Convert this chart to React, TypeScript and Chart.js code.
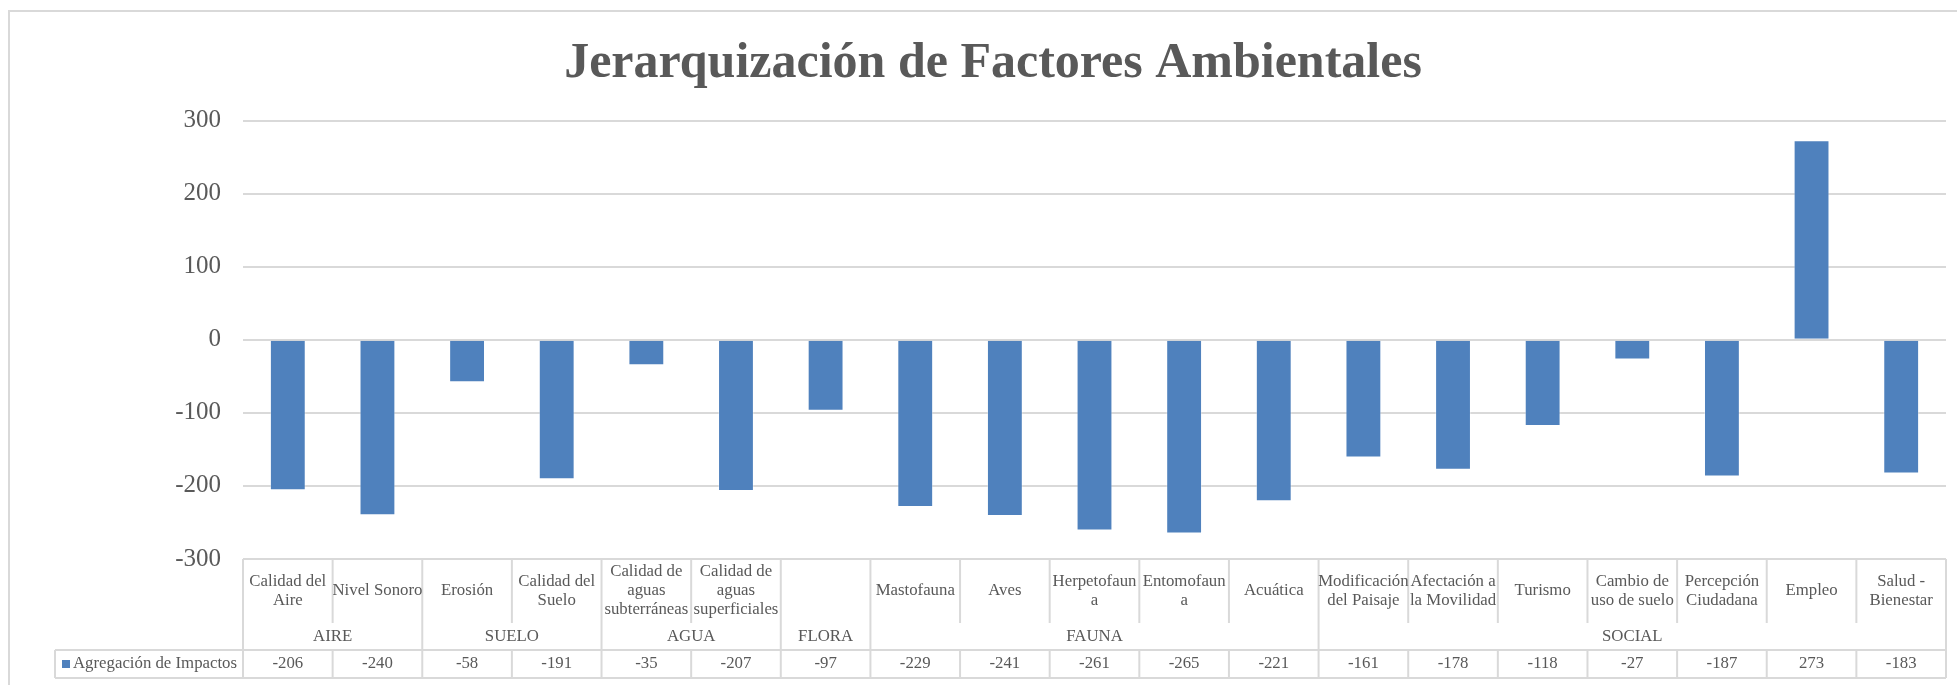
import React, { useEffect, useRef } from 'react';
import { Chart, registerables } from 'chart.js';

Chart.register(...registerables);

// ---- Data ----
const chartTitle = 'Jerarquización de Factores Ambientales';
const seriesName = 'Agregación de Impactos';
const categoryLines: string[][] = [
  ['Calidad del', 'Aire'],
  ['Nivel Sonoro'],
  ['Erosión'],
  ['Calidad del', 'Suelo'],
  ['Calidad de', 'aguas', 'subterráneas'],
  ['Calidad de', 'aguas', 'superficiales'],
  [''],
  ['Mastofauna'],
  ['Aves'],
  ['Herpetofaun', 'a'],
  ['Entomofaun', 'a'],
  ['Acuática'],
  ['Modificación', 'del Paisaje'],
  ['Afectación a', 'la Movilidad'],
  ['Turismo'],
  ['Cambio de', 'uso de suelo'],
  ['Percepción', 'Ciudadana'],
  ['Empleo'],
  ['Salud -', 'Bienestar'],
];
const groupNames = ['AIRE', 'SUELO', 'AGUA', 'FLORA', 'FAUNA', 'SOCIAL'];
const groupSizes = [2, 2, 2, 1, 5, 7];
const impactValues = [-206, -240, -58, -191, -35, -207, -97, -229, -241, -261, -265, -221, -161, -178, -118, -27, -187, 273, -183];
const yMin = -300;
const yMax = 300;
const yStep = 100;

// ---- Styles ----
const W = 1957;
const H = 685;
const FONT = '"Liberation Serif", "Times New Roman", serif';
const TEXT = '#595959';
const LINE = '#d9d9d9';
const BAR = '#4F81BD';

const tablePlugin = {
  id: 'dataTable',
  beforeDraw(chart: any) {
    const ctx = chart.ctx;
    ctx.save();
    ctx.fillStyle = '#ffffff';
    ctx.fillRect(0, 0, chart.width, chart.height);
    ctx.strokeStyle = LINE;
    ctx.lineWidth = 2;
    ctx.strokeRect(9, 11, chart.width + 60, chart.height + 60);
    ctx.restore();
  },
  afterDraw(chart: any) {
    const ctx = chart.ctx;
    const xs = chart.scales.x;
    const ys = chart.scales.y;
    const n = categoryLines.length;
    const left = chart.chartArea.left;
    const right = chart.chartArea.right;
    const cw = (right - left) / n;
    const edge = (i: number) => (i >= n ? right : xs.getPixelForValue(i) - cw / 2);
    const top = ys.getPixelForValue(yMin);
    const rowCat = top + 64;
    const rowGrp = top + 91;
    const rowBot = top + 119;
    const legendLeft = 55;

    const line = (x1: number, y1: number, x2: number, y2: number) => {
      ctx.beginPath();
      ctx.moveTo(x1, y1);
      ctx.lineTo(x2, y2);
      ctx.stroke();
    };

    ctx.save();
    ctx.strokeStyle = LINE;
    ctx.lineWidth = 2;
    line(left, top, right, top);
    line(legendLeft, rowGrp, right, rowGrp);
    line(legendLeft, rowBot, right, rowBot);
    line(legendLeft, rowGrp, legendLeft, rowBot);

    const groupEdges = new Set<number>();
    let acc = 0;
    groupEdges.add(0);
    groupSizes.forEach((s) => {
      acc += s;
      groupEdges.add(acc);
    });
    for (let i = 0; i <= n; i++) {
      const x = edge(i);
      if (groupEdges.has(i)) {
        line(x, top, x, rowBot);
      } else {
        line(x, top, x, rowCat);
        line(x, rowGrp, x, rowBot);
      }
    }

    ctx.fillStyle = TEXT;
    ctx.font = `16.8px ${FONT}`;
    ctx.textAlign = 'center';
    ctx.textBaseline = 'middle';
    const lineH = 19;
    const catMid = (top + rowCat) / 2;
    categoryLines.forEach((lines, i) => {
      const cx = xs.getPixelForValue(i);
      const y0 = catMid - ((lines.length - 1) * lineH) / 2;
      lines.forEach((t, k) => ctx.fillText(t, cx, y0 + k * lineH));
    });

    const grpMid = (rowCat + rowGrp) / 2;
    let start = 0;
    groupNames.forEach((g, gi) => {
      const end = start + groupSizes[gi];
      ctx.fillText(g, (edge(start) + edge(end)) / 2, grpMid);
      start = end;
    });

    const valMid = (rowGrp + rowBot) / 2;
    impactValues.forEach((v, i) => {
      ctx.fillText(String(v), xs.getPixelForValue(i), valMid);
    });

    ctx.fillStyle = BAR;
    ctx.fillRect(legendLeft + 7, valMid - 4, 8, 8);
    ctx.fillStyle = TEXT;
    ctx.textAlign = 'left';
    ctx.fillText(seriesName, legendLeft + 18, valMid);
    ctx.restore();
  },
};

export default function App() {
  const ref = useRef<HTMLCanvasElement | null>(null);
  useEffect(() => {
    if (!ref.current) return;
    const chart = new Chart(ref.current, {
      type: 'bar',
      data: {
        labels: categoryLines.map((l) => l.join(' ')),
        datasets: [
          {
            label: seriesName,
            data: impactValues,
            backgroundColor: BAR,
            borderColor: 'rgba(255,255,255,0.35)',
            borderWidth: 1,
            barPercentage: 0.4,
            categoryPercentage: 1,
          },
        ],
      },
      options: {
        responsive: false,
        maintainAspectRatio: false,
        devicePixelRatio: 1,
        animation: false,
        layout: { padding: { left: 40, right: 11, top: 0, bottom: 126 } },
        plugins: {
          legend: { display: false },
          tooltip: { enabled: false },
          title: {
            display: true,
            text: chartTitle,
            color: TEXT,
            font: { family: FONT, size: 50, weight: 'bold', lineHeight: 1.2 },
            padding: { top: 34, bottom: 26.5 },
          },
        },
        scales: {
          x: { display: false },
          y: {
            min: yMin,
            max: yMax,
            afterFit: (scale: any) => {
              scale.width = 203;
            },
            ticks: {
              stepSize: yStep,
              color: TEXT,
              padding: 22,
              font: { family: FONT, size: 25 },
            },
            grid: { color: LINE, lineWidth: 2, drawTicks: false },
            border: { display: false },
          },
        },
      },
      plugins: [tablePlugin],
    });
    return () => chart.destroy();
  }, []);
  return (
    <div style={{ position: 'fixed', left: 0, top: 0, width: W, height: H, overflow: 'hidden', background: '#fff' }}>
      <canvas ref={ref} width={W} height={H} style={{ width: W, height: H, display: 'block' }} />
    </div>
  );
}
